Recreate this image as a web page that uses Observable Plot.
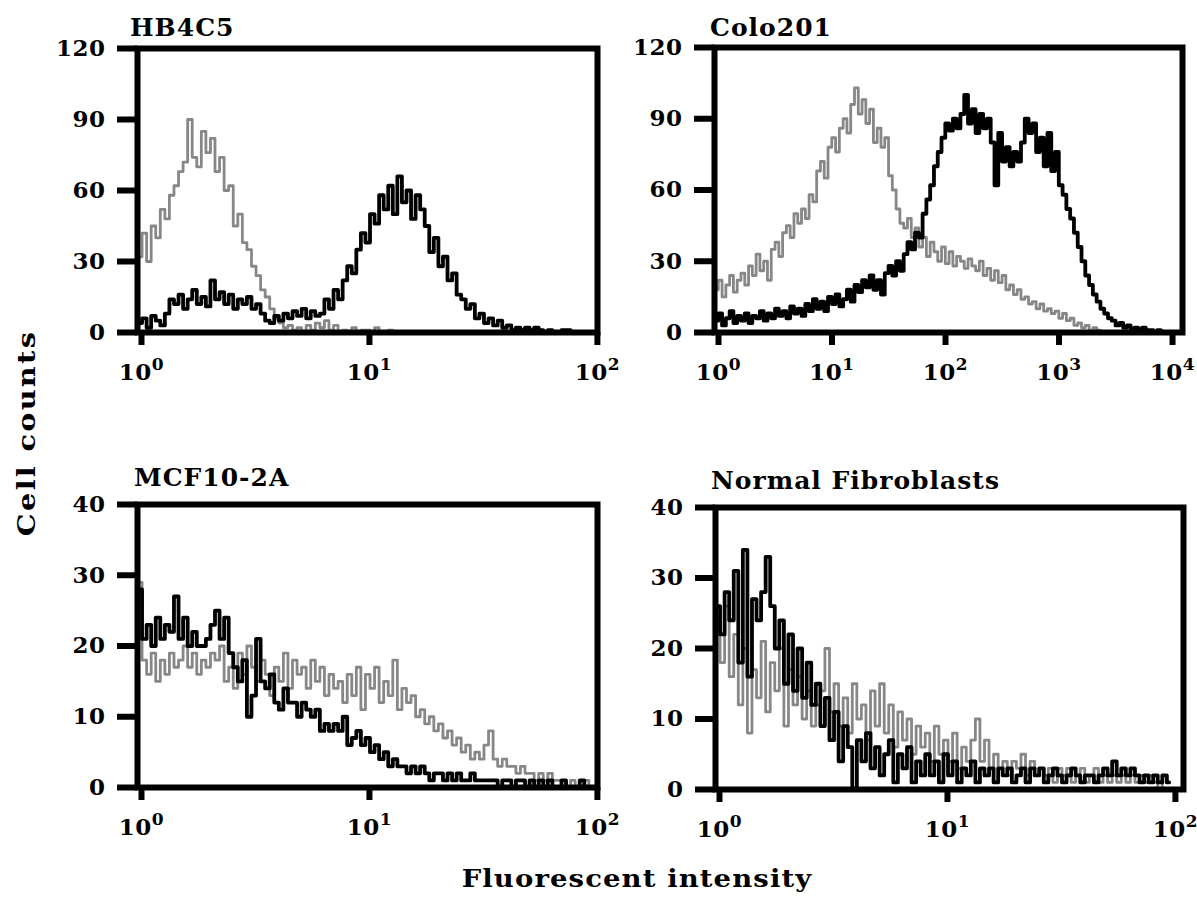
<!DOCTYPE html>
<html><head><meta charset="utf-8">
<script src="https://cdn.jsdelivr.net/npm/d3@7"></script>
<script src="https://cdn.jsdelivr.net/npm/@observablehq/plot@0.6"></script>
<style>
body{margin:0;background:#fff;}
#root{position:relative;width:1197px;height:899px;overflow:hidden;font-family:"DejaVu Serif",serif;font-weight:bold;color:#000;background:#fff;}
.panel{position:absolute;}
.panel svg{overflow:visible;}
.lbl{position:absolute;white-space:nowrap;font-weight:bold;line-height:1;}
</style></head><body><div id="root"></div>
<script>
// ---- Data (cell counts per channel) ----
// HB4C5: 100 channels over 10^0..10^2
const hb4c5Gray = [32,42,30,45,40,52,48,58,62,68,72,90,74,70,85,76,82,68,74,60,62,45,50,38,35,28,24,18,15,10,6,4,2,3,1,2,0,3,1,4,2,5,1,3,0,1,0,2,0,1,1,0,2,0,0,1,0,0,0,0,0,0,0,0,0,0,0,0,0,0,0,0,0,0,0,0,0,0,0,0,0,0,0,0,0,0,0,0,0,0,0,0,0,0,0,0,0,0,0,0];
const hb4c5Black = [4,6,2,7,5,3,8,14,12,16,10,14,18,12,15,11,22,14,17,12,16,10,14,12,15,10,12,8,5,4,7,5,8,6,9,7,10,6,9,7,8,14,10,18,14,22,28,25,35,42,38,50,46,58,52,62,50,66,55,60,48,58,52,45,34,40,28,32,22,25,16,14,10,12,6,8,4,6,3,5,2,3,1,2,1,2,1,2,1,0,1,0,0,1,1,0,0,0,0,0];
// Colo201: 120 channels over 10^0..10^4
const colo201Gray = [18,22,15,20,24,17,22,25,20,28,24,33,26,30,22,35,38,32,42,45,40,50,46,52,48,58,55,68,72,65,78,82,76,86,90,84,96,103,92,98,88,94,80,86,78,82,66,60,52,46,44,48,40,44,36,40,32,38,34,30,36,29,34,28,32,30,27,31,28,26,30,24,27,22,26,21,24,18,20,16,18,14,15,12,13,10,12,9,10,8,9,6,8,5,6,3,4,2,3,1,2,1,0,0,0,0,0,0,0,0,0,0,0,0,0,0,0,0,0,0];
const colo201Black = [5,8,3,6,9,4,7,5,8,4,7,6,9,5,8,6,10,7,9,6,11,8,10,7,12,9,14,10,13,9,15,12,16,11,14,18,13,20,17,22,19,24,18,22,16,25,28,24,30,26,33,38,35,42,40,50,56,62,70,76,82,88,85,90,86,92,100,88,94,84,92,86,90,80,62,84,72,78,70,76,72,80,90,84,88,76,82,70,84,68,76,62,58,52,48,42,36,30,24,20,16,13,10,8,6,5,3,4,2,3,1,2,1,2,1,1,0,1,0,0];
// MCF10-2A: 100 channels over 10^0..10^2
const mcfBlack = [28,21,23,20,24,21,23,22,27,21,24,20,22,20,20,21,23,25,21,24,19,17,15,18,10,13,21,15,14,16,12,11,14,12,12,10,12,11,10,11,8,9,8,9,8,10,6,7,8,6,7,5,6,4,5,3,4,3,3,2,3,2,3,2,1,2,2,1,2,1,2,1,1,2,1,1,1,1,1,0,1,1,0,1,1,0,1,0,1,0,1,0,0,1,0,0,0,1,0,0];
const mcfGray = [29,18,16,19,15,18,16,19,17,18,20,17,19,16,18,17,19,18,20,15,17,14,19,16,20,17,15,18,16,13,17,15,19,14,18,16,17,14,18,15,17,13,16,14,15,12,16,13,17,11,16,14,17,12,15,13,18,11,14,12,13,10,11,9,10,8,9,7,8,6,7,5,6,4,5,4,6,8,4,3,4,3,3,2,3,2,2,1,2,1,2,1,1,1,0,1,0,0,1,0];
// Normal Fibroblasts: 100 channels over 10^0..10^2
const fibroBlack = [26,22,28,24,31,18,34,16,27,24,28,33,26,20,24,15,22,14,20,13,18,12,15,9,13,7,11,4,9,6,0,7,4,8,3,6,2,5,7,1,5,3,6,1,4,2,5,2,4,1,5,2,4,1,3,2,4,1,3,2,3,1,3,2,3,1,2,3,1,3,2,3,1,2,3,2,1,2,3,2,1,2,2,1,2,3,2,4,2,3,2,3,2,1,2,1,2,1,2,1];
const fibroGray = [24,18,26,16,22,12,20,8,17,13,21,11,18,14,20,9,17,12,16,10,14,9,12,14,20,11,15,9,13,8,15,10,12,7,14,9,15,8,12,6,11,7,10,5,9,6,8,4,9,5,7,4,8,3,6,4,7,10,4,7,3,5,3,4,2,4,3,5,2,4,2,3,2,3,1,3,2,3,1,2,3,1,2,3,1,2,1,2,1,2,1,2,1,2,1,2,1,0,2,1];

const panelTitles = ["HB4C5", "Colo201", "MCF10-2A", "Normal Fibroblasts"];
const countTicksTop = [0, 30, 60, 90, 120];
const countTicksBottom = [0, 10, 20, 30, 40];
const decadeTicksShort = [1, 10, 100];
const decadeTicksLong = [1, 10, 100, 1000, 10000];
const yLabel = "Cell counts";
const xLabel = "Fluorescent intensity";

// ---- Helpers ----
const sup = ["\u2070", "\u00B9", "\u00B2", "\u00B3", "\u2074"];
const fmtDecade = d => "10" + sup[Math.round(Math.log10(d))];
function channels(values, perDecade) {
  return values.map((v, i) => ({x: 10 ** ((i + 0.5) / perDecade), y: v}));
}

const root = document.getElementById("root");
const SVGNS = "http://www.w3.org/2000/svg";

function superscriptTicks(svg) {
  svg.querySelectorAll("text").forEach(t => {
    const s = t.textContent;
    if (s.length !== 3 || s.slice(0, 2) !== "10") return;
    const k = sup.indexOf(s.slice(2));
    if (k < 0) return;
    t.textContent = "";
    const a = document.createElementNS(SVGNS, "tspan");
    a.textContent = "10";
    const b = document.createElementNS(SVGNS, "tspan");
    b.textContent = String(k);
    b.setAttribute("font-size", "17");
    b.setAttribute("dy", "-10");
    t.appendChild(a); t.appendChild(b);
  });
}

function panel(o) {
  const gray = channels(o.gray, o.perDecade);
  const black = channels(o.black, o.perDecade);
  const svg = Plot.plot({
    width: o.width, height: o.height,
    marginLeft: o.ml, marginRight: o.mr, marginTop: o.mt, marginBottom: o.mb,
    style: {fontFamily: "'DejaVu Serif', serif", fontSize: "23px", fontWeight: "bold", background: "transparent", overflow: "visible", letterSpacing: "0.5px"},
    x: {type: "log", domain: [1, 10 ** o.xMaxExp]},
    y: {domain: [0, o.yMax]},
    marks: [
      Plot.line(gray, {x: "x", y: "y", curve: "step", stroke: "#878787", strokeWidth: 2.8}),
      Plot.line(black, {x: "x", y: "y", curve: "step", stroke: "#000", strokeWidth: 3.8}),
      Plot.frame({stroke: "#000", strokeWidth: 6}),
      Plot.axisY({ticks: o.yTicks, tickSize: 20, tickPadding: 12, strokeWidth: 6, label: null,
        fontSize: 23, fontWeight: "bold", tickFormat: d => String(d)}),
      Plot.axisX({ticks: o.xTicks, tickSize: 13, tickPadding: 18, strokeWidth: 6, label: null,
        fontSize: 23, fontWeight: "bold", tickFormat: fmtDecade, dx: 4})
    ]
  });
  superscriptTicks(svg);
  const div = document.createElement("div");
  div.className = "panel";
  div.style.left = o.left + "px";
  div.style.top = o.top + "px";
  div.appendChild(svg);
  root.appendChild(div);

  const t = document.createElement("div");
  t.className = "lbl";
  t.style.left = o.titleX + "px";
  t.style.top = o.titleY + "px";
  t.style.fontSize = "25px";
  t.style.letterSpacing = "1px";
  t.textContent = o.title;
  root.appendChild(t);
}

panel({title: panelTitles[0], titleX: 130, titleY: 15, gray: hb4c5Gray, black: hb4c5Black, perDecade: 50,
  left: 0, top: 0, width: 610, height: 390, ml: 137, mr: 13, mt: 48, mb: 58,
  xMaxExp: 2.018, xTicks: decadeTicksShort, yMax: 120, yTicks: countTicksTop});
panel({title: panelTitles[1], titleX: 710, titleY: 15, gray: colo201Gray, black: colo201Black, perDecade: 30,
  left: 600, top: 0, width: 597, height: 390, ml: 114, mr: 15, mt: 47, mb: 58,
  xMaxExp: 4.123, xTicks: decadeTicksLong, yMax: 120, yTicks: countTicksTop});
panel({title: panelTitles[2], titleX: 134, titleY: 465, gray: mcfGray, black: mcfBlack, perDecade: 50,
  left: 0, top: 460, width: 610, height: 400, ml: 137, mr: 13, mt: 44, mb: 73,
  xMaxExp: 2.018, xTicks: decadeTicksShort, yMax: 40, yTicks: countTicksBottom});
panel({title: panelTitles[3], titleX: 711, titleY: 468, gray: fibroGray, black: fibroBlack, perDecade: 50,
  left: 600, top: 460, width: 597, height: 400, ml: 115, mr: 14, mt: 47, mb: 71,
  xMaxExp: 2.053, xTicks: decadeTicksShort, yMax: 40, yTicks: countTicksBottom});

const yl = document.createElement("div");
yl.className = "lbl";
yl.style.left = "26px"; yl.style.top = "433px"; yl.style.fontSize = "25px"; yl.style.letterSpacing = "2px";
yl.style.transform = "translate(-50%,-50%) rotate(-90deg) scale(1.15,1)";
yl.textContent = yLabel;
root.appendChild(yl);

const xl = document.createElement("div");
xl.className = "lbl";
xl.style.left = "637px"; xl.style.top = "878px"; xl.style.fontSize = "25px"; xl.style.letterSpacing = "1px";
xl.style.transform = "translate(-50%,-50%) scale(1.1,1)";
xl.textContent = xLabel;
root.appendChild(xl);
</script></body></html>
